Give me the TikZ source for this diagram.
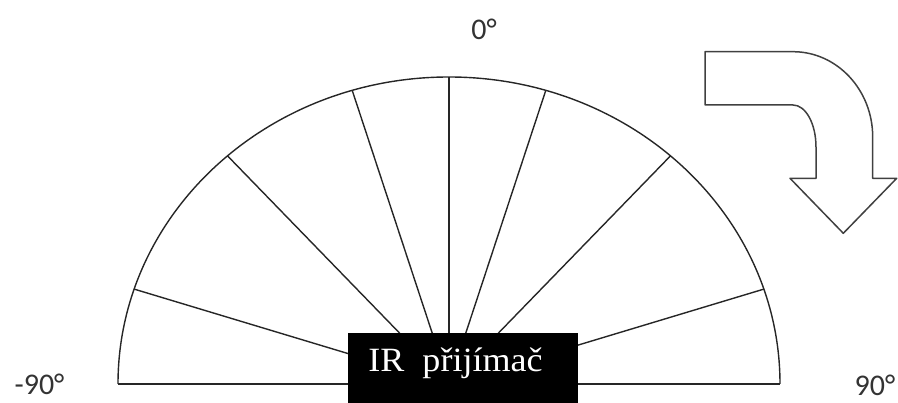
\documentclass[tikz,border=0pt]{standalone}
\usepackage{fontspec}
\setmainfont{Liberation Serif}
\newfontfamily\labelfont{Carlito}
\begin{document}
\begin{tikzpicture}[x=1pt,y=1pt,
  lineink/.style={draw=black!85,line width=1.4pt},
  arrowink/.style={draw=black!75,line width=1.5pt,line join=round},
  anglelabel/.style={font=\labelfont\fontsize{30}{30}\selectfont,text=black!80,inner sep=0pt,anchor=base},
  irbox/.style={fill=black,draw=none,inner sep=0pt,minimum width=230pt,minimum height=70pt,anchor=south west}
]
\useasboundingbox (0,0) rectangle (898,403);
\coordinate (c) at (449,19);
% half ellipse and base line
\draw[lineink] (118,19) -- (780,19);
\draw[lineink] (118,19) arc[start angle=180,end angle=0,x radius=331,y radius=307];
% rays
\foreach \t [count=\i] in {162,132,107,90,73,48,18}{
  \coordinate (r\i) at ({449+331*cos(\t)},{19+307*sin(\t)});
  \draw[lineink] (c) -- (r\i);
}
% receiver box
\node[irbox] (ir) at (348,0) {};
\node[text=white,font=\fontsize{34}{34}\selectfont,inner sep=0pt,anchor=base] (irt) at (455.5,31) {\scalebox{1.06}[1]{IR\ \ přijímač}};
% labels
\node[anglelabel] (l0) at (484,363) {0°};
\node[anglelabel] (lm) at (39.5,8) {-90°};
\node[anglelabel] (lp) at (875,7) {90°};
% rotation arrow
\draw[arrowink] (705,351.3) -- (793,351.3)
  arc[start angle=90,end angle=0,x radius=79.7,y radius=85.3]
  -- (872.7,224.7) -- (896.7,224.7) -- (843.3,169.7) -- (790,224.7) -- (816,224.7)
  -- (816,256)
  arc[start angle=0,end angle=90,x radius=23,y radius=42]
  -- (705,298) -- cycle;
\end{tikzpicture}
\end{document}
